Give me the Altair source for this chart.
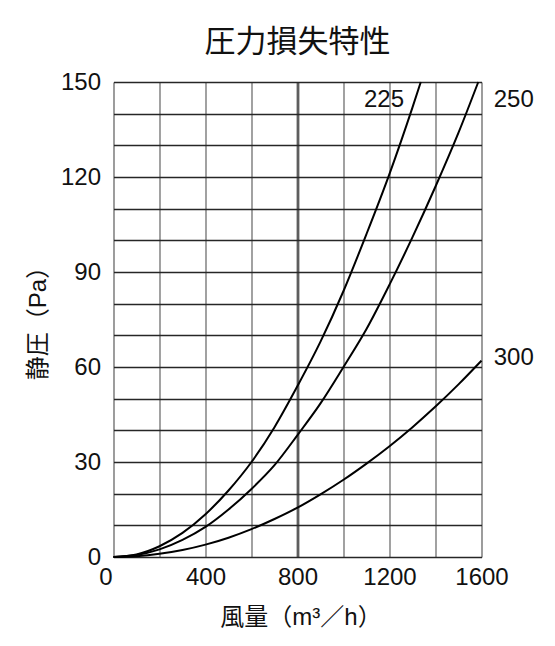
import altair as alt
import pandas as pd

# ---- data ----
flow_225 = [0, 100, 200, 300, 400, 500, 600, 700, 800, 900, 1000, 1100, 1200, 1300, 1336]
pa_225 = [0, 0.8, 3.4, 7.6, 13.5, 21, 30, 41, 54, 68, 84, 102, 121, 142, 150]

flow_250 = [0, 100, 200, 300, 400, 500, 600, 700, 800, 900, 1000, 1100, 1200, 1300, 1400, 1500, 1586]
pa_250 = [0, 0.6, 2.4, 5.4, 9.5, 15, 21.5, 29, 38.5, 48.5, 60, 72, 86, 101, 117, 134, 150]

flow_300 = [0, 100, 200, 300, 400, 500, 600, 700, 800, 900, 1000, 1100, 1200, 1300, 1400, 1500, 1600]
pa_300 = [0, 0.25, 1, 2.2, 3.9, 6.1, 8.8, 12, 15.6, 19.8, 24.4, 29.5, 35, 41, 47.5, 54.5, 62]

label_text = ["225", "250", "300"]
label_flow = [1176, 1740, 1740]
label_pa = [144.3, 144.3, 62.8]

x_grid = [0, 200, 400, 600, 800, 1000, 1200, 1400, 1600]
y_grid = [0, 10, 20, 30, 40, 50, 60, 70, 80, 90, 100, 110, 120, 130, 140, 150]

title_text = "圧力損失特性"
x_title = "風量（m³／h）"
y_title = "静圧（Pa）"

rows = []
for name, xs, ys in [("225", flow_225, pa_225), ("250", flow_250, pa_250), ("300", flow_300, pa_300)]:
    for x, y in zip(xs, ys):
        rows.append({"series": name, "flow": x, "pa": y})
curves = pd.DataFrame(rows)
labels = pd.DataFrame({"label": label_text, "flow": label_flow, "pa": label_pa})

NUM_FONT = "Liberation Sans"
CJK_FONT = "Liberation Sans, Noto Sans CJK JP"

x_axis = alt.Axis(
    values=x_grid,
    format="d",
    labelExpr="datum.value % 400 == 0 ? datum.label : ''",
    grid=True,
    gridColor={"condition": {"test": "datum.value == 800", "value": "#5e5e5e"}, "value": "#7a7a7a"},
    gridWidth={"condition": {"test": "datum.value == 800", "value": 2.8}, "value": 1.4},
    domain=False,
    ticks=False,
    labelFont=NUM_FONT,
    labelFontSize=24,
    labelColor="#111111",
    labelPadding=8,
    labelFlush=False,
    labelOffset={"condition": {"test": "datum.value == 0", "value": -8}, "value": 0},
    title=x_title,
    titleFont=CJK_FONT,
    titleFontSize=24,
    titleFontWeight="normal",
    titleColor="#111111",
    titleX=187,
    titleY=60,
    titleAlign="center",
    titleBaseline="middle",
    titleAngle=0,
)

y_axis = alt.Axis(
    values=y_grid,
    format="d",
    labelExpr="datum.value % 30 == 0 ? datum.label : ''",
    grid=True,
    gridColor="#262626",
    gridWidth=1.6,
    domain=False,
    ticks=False,
    labelFont=NUM_FONT,
    labelFontSize=24,
    labelColor="#111111",
    labelPadding=13,
    labelFlush=False,
    title=y_title,
    titleFont=CJK_FONT,
    titleFontSize=24,
    titleFontWeight="normal",
    titleColor="#111111",
    titleX=-75,
    titleY=235,
    titleAlign="center",
    titleBaseline="middle",
    titleAngle=270,
)

x_scale = alt.Scale(domain=[0, 1600], nice=False, zero=False)
y_scale = alt.Scale(domain=[0, 150], nice=False, zero=False)

lines = alt.Chart(curves).mark_line(color="black", strokeWidth=2, interpolate="monotone").encode(
    x=alt.X("flow:Q", scale=x_scale, axis=x_axis),
    y=alt.Y("pa:Q", scale=y_scale, axis=y_axis),
    detail="series:N",
)

texts = alt.Chart(labels).mark_text(
    font=NUM_FONT, fontSize=24, color="#111111", align="center", baseline="middle"
).encode(
    x=alt.X("flow:Q", scale=x_scale, axis=x_axis),
    y=alt.Y("pa:Q", scale=y_scale, axis=y_axis),
    text="label:N",
)

chart = alt.layer(lines, texts).properties(
    width=368,
    height=475,
    title=alt.TitleParams(
        title_text,
        font="Noto Sans CJK JP",
        fontSize=31,
        fontWeight="normal",
        color="#111111",
        anchor="middle",
        frame="group",
        offset=11,
    ),
    autosize=alt.AutoSizeParams(type="none"),
    padding={"left": 105.5, "top": 74, "right": 60, "bottom": 88},
).configure_view(
    stroke="black", strokeWidth=2.4
).configure(background="white")

chart.save("out.html", embed_options={"renderer": "svg", "actions": False})
